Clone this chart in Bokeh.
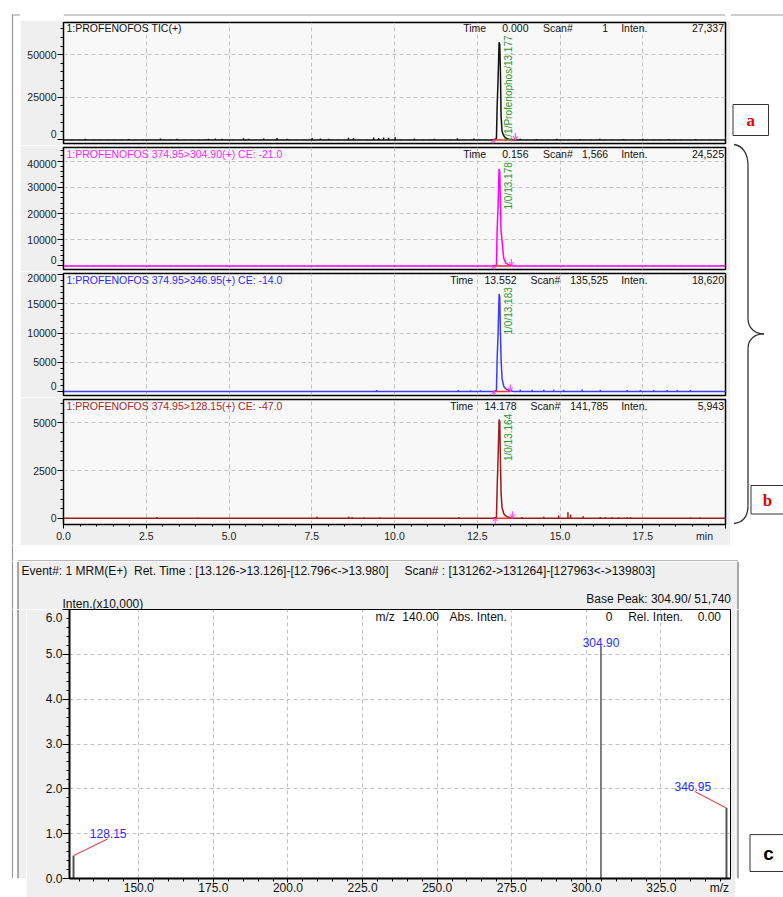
import math
from bokeh.plotting import figure
from bokeh.layouts import row, column
from bokeh.models import Range1d, Label, SingleIntervalTicker, PrintfTickFormatter
from bokeh.embed import file_html
from bokeh.resources import INLINE
from bokeh.core.properties import value

FONT = "Liberation Sans"
NB = "\u00a0"

# ------------------------------------------------------------------ data
# chromatogram peak region (retention time, min) and intensities per trace
peak_time = [12.98, 13.08, 13.10, 13.13, 13.16, 13.18, 13.20, 13.22, 13.25, 13.30, 13.36, 13.45, 13.60]
tic_peak = [0, 800, 19000, 36000, 57200, 56000, 40000, 14000, 5000, 2500, 1200, 500, 0]
mrm305_peak = [0, 300, 13500, 23000, 37100, 36000, 24000, 13000, 9500, 3000, 1200, 400, 0]
mrm347_peak = [0, 150, 5400, 10000, 16700, 16200, 10000, 5500, 2200, 900, 450, 200, 0]
mrm128_peak = [0, 50, 1500, 3200, 5170, 5080, 3000, 1300, 550, 250, 120, 50, 0]

# small baseline blips (time, intensity)
tic_noise_t = [0.66, 1.97, 2.93, 3.43, 4.38, 4.59, 4.79, 5.44, 5.59, 6.05, 6.45, 6.75, 7.51, 7.76,
               8.01, 8.61, 8.76, 9.37, 9.52, 9.67, 9.82, 10.02, 10.6, 11.2, 11.9, 12.4,
               13.8, 14.3, 14.9, 15.6, 16.2, 16.9, 17.5, 18.3, 19.1]
tic_noise_h = [700, 600, 900, 700, 800, 900, 700, 1000, 800, 900, 1100, 800, 1200, 900,
               800, 1300, 1100, 1400, 1200, 1500, 1300, 1600, 900, 800, 1000, 900,
               700, 600, 700, 600, 700, 600, 700, 600, 600]
mrm305_noise_t = []
mrm305_noise_h = []
mrm347_noise_t = [9.46, 11.93, 12.3, 12.6, 13.80, 14.16, 14.51, 14.81, 15.11, 15.67, 16.22,
                  17.03, 17.43, 17.83, 18.24, 18.54, 18.94]
mrm347_noise_h = [250, 250, 200, 200, 350, 300, 300, 300, 300, 350, 300, 250, 250, 250, 250, 250, 250]
mrm128_noise_t = [2.82, 4.06, 7.66, 8.61, 8.72, 9.07, 9.55, 11.94, 13.85, 14.51, 14.96, 15.24,
                  15.32, 15.70, 16.22, 16.37, 16.57, 16.77, 17.03, 17.13, 18.94, 19.24]
mrm128_noise_h = [60, 30, 80, 80, 50, 40, 40, 60, 60, 80, 140, 315, 200, 100, 60, 50, 50, 50,
                  50, 50, 40, 40]

# integration marks (start, end, min)
int_start = [12.98, 13.00, 13.00, 13.04]
int_end = [13.65, 13.53, 13.50, 13.56]

# header texts
trace_titles = ["1:PROFENOFOS TIC(+)",
                "1:PROFENOFOS 374.95>304.90(+) CE: -21.0",
                "1:PROFENOFOS 374.95>346.95(+) CE: -14.0",
                "1:PROFENOFOS 374.95>128.15(+) CE: -47.0"]
cursor_time = ["0.000", "0.156", "13.552", "14.178"]
cursor_scan = ["1", "1,566", "135,525", "141,785"]
cursor_inten = ["27,337", "24,525", "18,620", "5,943"]
peak_labels = ["1/1/Profenophos/13.177", "1/0/13.178", "1/0/13.183", "1/0/13.164"]

# mass spectrum
ms_mz = [128.15, 304.90, 346.95]
ms_inten = [0.51, 5.174, 1.57]          # x10,000
ms_labels = ["128.15", "304.90", "346.95"]
ms_header = ["Event#: 1 MRM(E+)", "Ret. Time : [13.126->13.126]-[12.796<->13.980]",
             "Scan# : [131262->131264]-[127963<->139803]"]
ms_base_peak = "Base Peak: 304.90/ 51,740"
ms_yunit = "Inten.(x10,000)"

# ------------------------------------------------------------------ styles
trace_colors = ["#111111", "#ff00ff", "#3c3cff", "#9a1c1c"]
title_colors = ["#111111", "#ff22ff", "#2a2aff", "#a52a2a"]
GREEN = "#2f962f"
GRID = "#c2c2c2"
MAGENTA = "#ff33ff"
FRAME_GRAY = "#9a9a9a"
BOX_GRAY = "#707070"
PANEL_BG = "#efefef"


def series(peak):
    return [0.0] + peak_time + [20.0], [0] + peak + [0]


def lab(p, x, y, text, color="#111111", size="10.5px", align="left", baseline="middle",
        angle=0.0, font=FONT, style="normal"):
    p.add_layout(Label(x=x, y=y, text=text, text_color=color, text_font=font,
                       text_font_size=size, text_align=align, text_baseline=baseline,
                       angle=angle, text_font_style=style))


def ptext(p, x, y, text, color="#111111", size="12px", align="left"):
    p.text(x=[x], y=[y], text=[text], text_color=color, text_font=value(FONT),
           text_font_size=size, text_align=align, text_baseline="middle")


# geometry of chromatogram panels (page pixels)
panel_cfg = [
    # fig_top, height, border_top, border_bottom, y-range, tick, title_y, label_top_y
    (20, 125, 2, 2, (-2050, 68800), 25000, 27.5, 35.0),
    (145, 126, 2, 2, (-1336, 45229), 10000, 153.3, 161.7),
    (271, 126, 2, 2, (-685, 20205), 5000, 279.0, 286.7),
    (397, 148, 2, 21, (-330, 6221), 2500, 405.0, 413.3),
]
peaks = [tic_peak, mrm305_peak, mrm347_peak, mrm128_peak]
noises = [(tic_noise_t, tic_noise_h), (mrm305_noise_t, mrm305_noise_h),
          (mrm347_noise_t, mrm347_noise_h), (mrm128_noise_t, mrm128_noise_h)]


def make_chrom(i):
    fig_top, h, bt, bb, yr, tick, title_y, ltop = panel_cfg[i]
    p = figure(width=710, height=h, x_range=Range1d(0, 20), y_range=Range1d(*yr),
               output_backend="svg", toolbar_location=None,
               min_border_left=43, min_border_right=5, min_border_top=bt, min_border_bottom=bb,
               background_fill_color="#f8f8f8", border_fill_color=PANEL_BG,
               outline_line_color="black", outline_line_width=1.5)
    ft = fig_top + bt
    fb = fig_top + h - bb

    def cx(px):
        return (px - 63) / 662 * 20

    def cy(py):
        return yr[0] + (fb - py) / (fb - ft) * (yr[1] - yr[0])

    def dy(npx):
        return npx / (fb - ft) * (yr[1] - yr[0])

    p.xaxis.ticker = SingleIntervalTicker(interval=2.5, num_minor_ticks=5)
    p.xaxis.formatter = PrintfTickFormatter(format="%.1f")
    p.xaxis.major_label_overrides = {20: "min" + NB * 6}
    p.yaxis.ticker = SingleIntervalTicker(interval=tick, num_minor_ticks=5)
    p.yaxis.formatter = PrintfTickFormatter(format="%d")
    if i < 3:
        overrides = {0: "0\n" + NB}
        if i == 1:
            overrides[40000] = NB + "\n40000"
        p.yaxis.major_label_overrides = overrides
        p.yaxis.major_label_text_line_height = 0.5
    for ax in (p.xaxis[0], p.yaxis[0]):
        ax.axis_line_color = "black"
        ax.major_tick_line_color = "black"
        ax.minor_tick_line_color = "black"
        ax.major_label_text_font = FONT
        ax.major_label_text_font_size = "10.5px"
        ax.major_label_text_color = "#222222"
        ax.major_tick_in = 0
        ax.minor_tick_in = 0
    p.yaxis.major_tick_out = 6
    p.yaxis.minor_tick_out = 3
    p.yaxis.major_label_standoff = 1
    p.xaxis.major_tick_out = 4
    p.xaxis.minor_tick_out = 2
    p.xaxis.major_label_standoff = 1
    if i < 3:
        p.xaxis.visible = False
    p.grid.grid_line_color = GRID
    p.grid.grid_line_dash = "4 3"

    t, v = series(peaks[i])
    p.line(t, v, color=trace_colors[i], line_width=1.5)
    nt, nh = noises[i]
    if nt:
        p.segment(x0=nt, y0=[0] * len(nt), x1=nt, y1=nh, color=trace_colors[i], line_width=1.5)
    # integration baseline and start / end markers
    s, e = int_start[i], int_end[i]
    ax_ = 2.2 / 662 * 20
    p.segment(x0=[s], y0=[0], x1=[e], y1=[0], color="#ff2a2a", line_width=1.5)
    p.segment(x0=[s, s, s, e, e, e], y0=[dy(-6), 0, 0, dy(7), 0, 0],
              x1=[s, s - ax_, s + ax_, e, e - ax_, e + ax_],
              y1=[0, dy(-3), dy(-3), 0, dy(4), dy(4)], color=MAGENTA, line_width=1)

    # headers
    lab(p, cx(66), cy(title_y), trace_titles[i], color=title_colors[i])
    if i < 2:
        t_right, v_left, s_left = 485.7, 501.7, 542.5
    else:
        t_right, v_left, s_left = 472.7, 484.0, 530.0
    lab(p, cx(t_right), cy(title_y), "Time", align="right")
    lab(p, cx(v_left), cy(title_y), cursor_time[i])
    lab(p, cx(s_left), cy(title_y), "Scan#")
    lab(p, cx(607.7), cy(title_y), cursor_scan[i], align="right")
    lab(p, cx(620.7), cy(title_y), "Inten.")
    lab(p, cx(723.5), cy(title_y), cursor_inten[i], align="right")
    # rotated peak label
    lab(p, cx(507.7), cy(ltop), peak_labels[i], color=GREEN, size="10px", align="right",
        angle=math.pi / 2)
    return p


def strip(w, h, x0, x1, y0, y1, bg="white"):
    p = figure(width=w, height=h, x_range=Range1d(x0, x1), y_range=Range1d(y1, y0),
               output_backend="svg", toolbar_location=None, min_border=0,
               x_axis_type=None, y_axis_type=None, background_fill_color=bg,
               border_fill_color=bg, outline_line_color=None)
    return p


# ---------------- top section (y 0..545)
left_top = strip(20, 545, 0, 20, 0, 545)
left_top.segment(x0=[12, 12], y0=[14, 14.5], x1=[12, 20], y1=[545, 14.5],
                 color=FRAME_GRAY, line_width=1.2)

right_top = strip(53, 545, 730, 783, 0, 545)
right_top.segment(x0=[730], y0=[14.5], x1=[783], y1=[14.5], color=FRAME_GRAY, line_width=1.2)
right_top.quad(left=[732.5, 750.5], right=[768, 785], top=[104, 485],
               bottom=[135, 513.5], fill_color="white", line_color="#333333", line_width=1)
right_top.text(x=[750.2, 767], y=[119.5, 499.5], text=["a", "b"], text_color="#ee0000",
               text_font=value("Liberation Serif"), text_font_style="bold",
               text_font_size="17px", text_align="center", text_baseline="middle")
# curly brace
right_top.bezier(x0=[733.5, 747.5, 763.5, 747.5], y0=[144, 318, 333.3, 505],
                 x1=[747.5, 763.5, 747.5, 733.5], y1=[165, 333.3, 348, 523],
                 cx0=[742, 747.5, 755, 747.5], cy0=[145, 328, 333.3, 516],
                 cx1=[747.5, 755, 747.5, 742], cy1=[153, 333.3, 338, 522],
                 line_color="#333333", line_width=1.3)
right_top.segment(x0=[747.5, 747.5], y0=[165, 348], x1=[747.5, 747.5], y1=[318, 505],
                  color="#333333", line_width=1.3)

top_strip = strip(710, 20, 20, 730, 0, 20)
top_strip.segment(x0=[20], y0=[14.5], x1=[730], y1=[14.5], color=FRAME_GRAY, line_width=1.2)
chroms = [make_chrom(i) for i in range(4)]

top_section = row(left_top, column(top_strip, *chroms, spacing=0), right_top, spacing=0)

# ---------------- gap + spectrum header (y 545..609)
gap_full = strip(783, 16, 0, 783, 545, 561)
gap_full.quad(left=[18], right=[737], top=[561], bottom=[562], fill_color=PANEL_BG, line_color=None)
gap_full.segment(x0=[12, 17.5, 17.5, 737.5], y0=[545, 560.5, 560.5, 560.5],
                 x1=[12, 737.5, 17.5, 737.5], y1=[561, 560.5, 561, 561],
                 color=[FRAME_GRAY, BOX_GRAY, BOX_GRAY, BOX_GRAY], line_width=1.2)

head_full = strip(783, 48, 0, 783, 561, 609)
head_full.quad(left=[18], right=[737], top=[561], bottom=[609], fill_color=PANEL_BG, line_color=None)
head_full.segment(x0=[12, 17.5, 737.5], y0=[561, 561, 561], x1=[12, 17.5, 737.5],
                  y1=[609, 609, 609], color=[FRAME_GRAY, BOX_GRAY, BOX_GRAY], line_width=1.2)
for txt, x in zip(ms_header, [21, 133.5, 404]):
    ptext(head_full, x, 570, txt)
ptext(head_full, 730.5, 598.3, ms_base_peak, align="right")
ptext(head_full, 62, 603, ms_yunit)

# ---------------- spectrum (y 609..897)
left_bot = strip(26, 288, 0, 26, 609, 897)
left_bot.quad(left=[18], right=[26], top=[609], bottom=[897], fill_color=PANEL_BG, line_color=None)
left_bot.segment(x0=[12, 17.5], y0=[609, 609], x1=[12, 17.5], y1=[897, 897],
                 color=[FRAME_GRAY, BOX_GRAY], line_width=1.2)

right_bot = strip(48, 288, 735, 783, 609, 897)
right_bot.quad(left=[735], right=[737], top=[609], bottom=[897], fill_color=PANEL_BG, line_color=None)
right_bot.segment(x0=[737.5], y0=[609], x1=[737.5], y1=[897], color=BOX_GRAY, line_width=1.2)
right_bot.quad(left=[749.5], right=[785], top=[850], bottom=[889.5], fill_color="white",
               line_color="#333333", line_width=1)
right_bot.text(x=[768], y=[870.5], text=["c"], text_color="black",
               text_font=value("Liberation Sans"), text_font_style="bold", text_font_size="19px",
               text_align="center", text_baseline="middle")

XR = (126.8, 348.3)
sp = figure(width=709, height=288, x_range=Range1d(*XR), y_range=Range1d(0, 6),
            output_backend="svg", toolbar_location=None,
            min_border_left=43, min_border_right=5, min_border_top=0, min_border_bottom=19,
            background_fill_color="white", border_fill_color=PANEL_BG,
            outline_line_color="black", outline_line_width=1)


def sx(px):
    return XR[0] + (px - 69) / 661 * (XR[1] - XR[0])


def sy(py):
    return (878 - py) / 269 * 6


sp.xaxis.ticker = SingleIntervalTicker(interval=25, num_minor_ticks=5)
sp.xaxis.formatter = PrintfTickFormatter(format="%.1f")
sp.xaxis.major_label_overrides = {325: NB * 16 + "325.0" + NB * 10 + "m/z"}
sp.yaxis.ticker = SingleIntervalTicker(interval=1, num_minor_ticks=5)
sp.yaxis.formatter = PrintfTickFormatter(format="%.1f")
sp.yaxis.major_label_overrides = {6: NB + "\n6.0"}
sp.yaxis.major_label_text_line_height = 0.1
for ax in (sp.xaxis[0], sp.yaxis[0]):
    ax.axis_line_color = "black"
    ax.axis_line_width = 2
    ax.major_tick_line_color = "black"
    ax.minor_tick_line_color = "black"
    ax.major_label_text_font = FONT
    ax.major_label_text_font_size = "12px"
    ax.major_label_text_color = "#111111"
    ax.major_tick_in = 0
    ax.minor_tick_in = 0
    ax.major_label_standoff = 0
sp.xaxis.major_label_standoff = -2
sp.yaxis.major_tick_out = 7
sp.yaxis.minor_tick_out = 3
sp.xaxis.major_tick_out = 4
sp.xaxis.minor_tick_out = 3
sp.grid.grid_line_color = GRID
sp.grid.grid_line_dash = "4 3"

sp.segment(x0=ms_mz, y0=[0] * len(ms_mz), x1=ms_mz, y1=ms_inten,
           color=["#555555", "#000000", "#555555"], line_width=[2, 1, 2])
# leader lines for peak labels
sp.segment(x0=[ms_mz[0], sx(694.3)], y0=[ms_inten[0], sy(791)],
           x1=[sx(107), ms_mz[2]], y1=[sy(838.5), ms_inten[2]], color="#ff2020", line_width=1)
BLUE = "#2a2aff"
lab(sp, sx(89.3), sy(832.7), ms_labels[0], color=BLUE, size="12px")
lab(sp, ms_mz[1], sy(641.7), ms_labels[1], color=BLUE, size="12px", align="center")
lab(sp, sx(674), sy(785.7), ms_labels[2], color=BLUE, size="12px")

lab(sp, sx(375), sy(616), "m/z", size="12px")
lab(sp, sx(438.5), sy(616), "140.00", size="12px", align="right")
lab(sp, sx(449), sy(616), "Abs. Inten.", size="12px")
lab(sp, sx(612), sy(616), "0", size="12px", align="right")
lab(sp, sx(627.7), sy(616), "Rel. Inten.", size="12px")
lab(sp, sx(720.5), sy(616), "0.00", size="12px", align="right")

bottom_section = row(left_bot, sp, right_bot, spacing=0)

layout = column(top_section, gap_full, head_full, bottom_section, spacing=0)

open("out.html", "w").write(file_html(layout, INLINE, "chart"))
